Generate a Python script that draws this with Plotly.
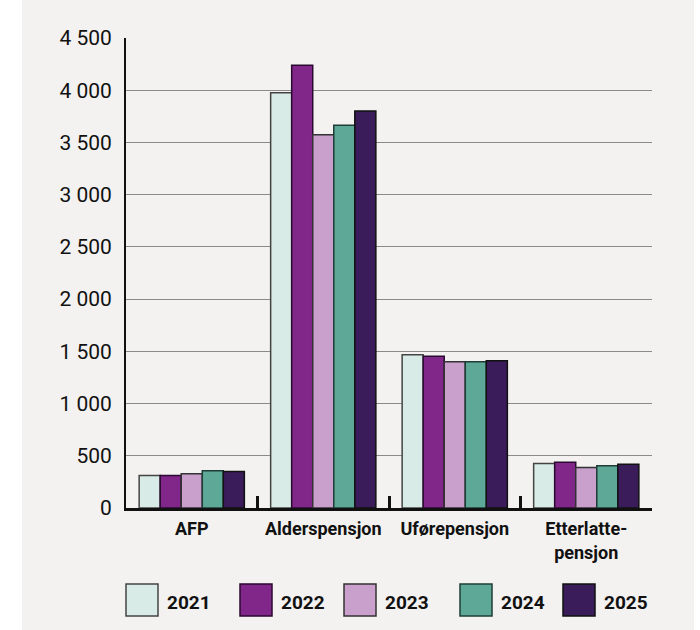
import plotly.graph_objects as go

# ---- data ----
categories = ["AFP", "Alderspensjon", "Uførepensjon", "Etterlatte-<br>pensjon"]
years = ["2021", "2022", "2023", "2024", "2025"]
values_2021 = [311, 3975, 1468, 426]
values_2022 = [311, 4239, 1452, 439]
values_2023 = [327, 3574, 1401, 388]
values_2024 = [356, 3665, 1401, 404]
values_2025 = [349, 3800, 1410, 420]
series = [values_2021, values_2022, values_2023, values_2024, values_2025]
y_tickvals = [0, 500, 1000, 1500, 2000, 2500, 3000, 3500, 4000, 4500]

# ---- styles ----
colors = ["#d9ebe6", "#82278a", "#c99fcc", "#5ea898", "#3b1c5a"]
outline = ["#444444", "#2a0a30", "#333333", "#1f3d36", "#111111"]
BG = "#f3f2f0"
FONT = "Roboto"

W, H = 700, 630
L, R, T, B = 126, 48, 38, 122
PW, PH = W - L - R, H - T - B


def px(x):
    return (x - L) / PW


def py(y):
    return (H - B - y) / PH


fig = go.Figure()
for yr, vals, c, oc in zip(years, series, colors, outline):
    fig.add_trace(go.Bar(
        x=categories, y=vals, name=yr,
        marker=dict(color=c, line=dict(color=oc, width=1.5)),
        showlegend=False,
    ))

shapes = [
    dict(type="rect", xref="paper", yref="paper",
         x0=px(22), x1=px(694), y0=py(H), y1=py(0),
         fillcolor=BG, line=dict(width=0), layer="below"),
]
annotations = []

legend_x = [126, 240, 344, 460, 563]
sw = 32
cy = 600
for yr, c, oc, lx in zip(years, colors, outline, legend_x):
    shapes.append(dict(type="rect", xref="paper", yref="paper",
                       x0=px(lx), x1=px(lx + sw), y0=py(cy + sw / 2), y1=py(cy - sw / 2),
                       fillcolor=c, line=dict(color=oc, width=1.5)))
    annotations.append(dict(xref="paper", yref="paper", x=px(lx + sw + 7), y=py(cy + 2),
                            text="<b>" + yr + "</b>", showarrow=False,
                            xanchor="left", yanchor="middle",
                            font=dict(family=FONT, size=19, color="#111111")))

fig.update_layout(
    width=W, height=H,
    margin=dict(l=L, r=R, t=T, b=B, pad=0),
    paper_bgcolor="white",
    plot_bgcolor="rgba(0,0,0,0)",
    barmode="group", bargap=0.2, bargroupgap=0,
    separators=", ",
    font=dict(family=FONT, color="#111111"),
    shapes=shapes,
    annotations=annotations,
    showlegend=False,
)
fig.update_yaxes(
    range=[0, 4500], tickvals=y_tickvals, tickformat=",d",
    showgrid=True, gridcolor="#8a8a8a", gridwidth=1,
    zeroline=False, showline=True, linecolor="#111111", linewidth=2,
    ticks="", ticklabelstandoff=8,
    tickfont=dict(family=FONT, size=21, color="#111111"),
)
fig.update_xaxes(
    showline=True, linecolor="#111111", linewidth=2.5,
    ticks="inside", tickson="boundaries", ticklen=12, tickwidth=2.5, tickcolor="#111111",
    ticklabelstandoff=3,
    tickfont=dict(family=FONT, size=18, color="#111111", weight="bold"),
    showgrid=False,
)

fig.write_html("out.html")
